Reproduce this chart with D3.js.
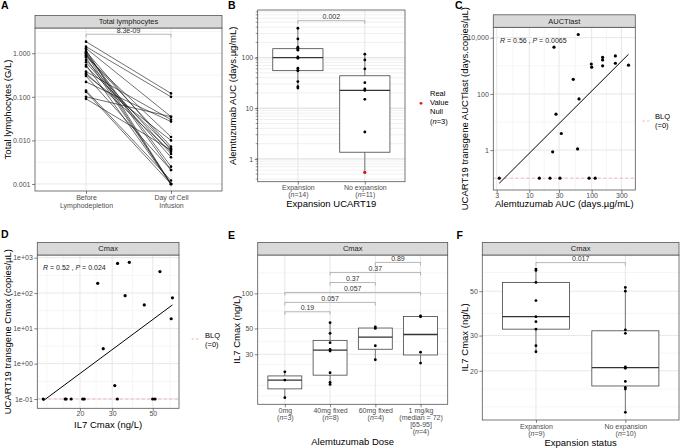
<!DOCTYPE html>
<html><head><meta charset="utf-8">
<script src="https://cdn.jsdelivr.net/npm/d3@7"></script>
<style>body{margin:0;background:#fff}</style>
</head><body>
<svg id="c" width="680" height="448" xmlns="http://www.w3.org/2000/svg"></svg>
<script>
// ---------------- DATA ----------------
// A: total lymphocytes (G/L), paired
const aCats = ["Before\nLymphodepletion", "Day of Cell\nInfusion"];
const aBefore = [1.85,1.42,1.30,1.19,1.10,1.00,0.96,0.90,0.84,0.80,0.70,0.62,0.54,0.50,0.38,0.35,0.32,0.30,0.22,0.13,0.10,0.09,0.14,1.05];
const aDay    = [0.12,0.10,0.035,0.001,0.006,0.0021,0.001,0.0072,0.012,0.001,0.0049,0.0041,0.001,0.0065,0.030,0.0055,0.010,0.0021,0.027,0.001,0.035,0.006,0.0012,0.0025];
const aP = "8.3e-09";
const aTicks = [1, 0.1, 0.01, 0.001];
const aTickLabels = ["1.000","0.100","0.010","0.001"];

// B: alemtuzumab AUC by expansion
const bCats = ["Expansion\n(n=14)", "No expansion\n(n=11)"];
const bExp = [380,234,160,150,150,140,103,97,62,56,55,33.6,26.7,25];
const bNoExp = [117,90,60,32,24,22.5,15,3.4];
const bNull = [0.54,0.54,0.54];
const bP = "0.002";
const bTicks = [100,10,1];
const bTickLabels = ["100","10","1"];

// C: AUCTlast vs alemtuzumab AUC
const cAlem = [61,24.9,50.7,62.7,26.8,32.6,23.7,59.5,98.6,100,150,150,150,240,240,390,3.3,14.5,21.5,31,91,114];
const cAuct = [13000,4600,330,66,19,3.9,0.87,1.1,1160,890,2000,1620,1000,2240,1230,1050,0.1,0.1,0.1,0.1,0.1,0.1];
const cFitX = [3.3, 390];
const cFitY = [0.066, 2570];
const cBLQ = 0.1;
const cYTicks = [10000,100,1];
const cYLabels = ["10,000","100","1"];
const cXTicks = [3,10,30,100,300];

// D: UCART19 Cmax vs IL7 Cmax
const dIl7  = [32.1,37.2,25,54.7,35.3,44.9,64,63,26.8,31,12.6,16.6,16.8,17.9,20.7,21.1,32,49.9,51.4];
const dCmax = [690,740,188,405,84,46,73,18.7,2.65,0.24,0.1,0.1,0.1,0.1,0.1,0.1,0.1,0.1,0.1];
const dFitX = [12.6, 64];
const dFitY = [0.089, 46];
const dBLQ = 0.1;
const dYTicks = [1000,100,10,1,0.1];
const dYLabels = ["1e+03","1e+02","1e+01","1e+00","1e-01"];
const dXTicks = [20,30,50];

// E: IL7 Cmax by alemtuzumab dose
const eCats = ["0mg\n(n=3)","40mg fixed\n(n=8)","60mg fixed\n(n=4)","1 mg/kg\n(median = 72)\n[65-95]\n(n=4)"];
const eVals = [[21.2,18,12.7],[56,45.4,37.7,33,32,20.8,17.2,16.5],[51.6,50,35.5,26.9],[64,63,31.2,25.2]];
const ePairs = [[0,1],[0,2],[0,3],[1,2],[1,3],[2,3]];
const eP = ["0.19","0.057","0.057","0.37","0.37","0.89"];
const eBrY = [69.5,83.7,102,124,151.5,184.5];
const eTicks = [100,50,30];

// F: IL7 Cmax by expansion status
const fCats = ["Expansion\n(n=9)","No expansion\n(n=10)"];
const fVals = [[64.5,63.5,55.3,44.9,37.3,35.2,32.3,26.7,24.9],[52.2,50,32,30.8,20.9,20.6,17.7,16.5,16.2,12.4]];
const fP = "0.017";
const fBrY = 69.5;
const fTicks = [50,30,20];

// ---------------- DRAW ----------------
const FONT = '"Liberation Sans", Arial, Helvetica, sans-serif';
const TXT = "#4d4d4d";
const svg = d3.select("#c").attr("font-family", FONT);

const PA={x0:35,x1:222,y0:28,y1:191};
const PB={x0:257.7,x1:405,y0:10,y1:181.7};
const PC={x0:493.3,x1:635.3,y0:27.3,y1:190};
const PD={x0:37.3,x1:179,y0:255,y1:408.3};
const PE={x0:257.7,x1:447.7,y0:255,y1:404.3};
const PF={x0:482.3,x1:679,y0:255,y1:420};

function letter(s,x,y){ svg.append("text").attr("x",x).attr("y",y).attr("font-size",10.5).attr("font-weight","bold").attr("fill","#000").text(s); }
function bg(p){ svg.append("rect").attr("x",p.x0).attr("y",p.y0).attr("width",p.x1-p.x0).attr("height",p.y1-p.y0).attr("fill","#fff"); }
function border(p){ svg.append("rect").attr("x",p.x0).attr("y",p.y0).attr("width",p.x1-p.x0).attr("height",p.y1-p.y0).attr("fill","none").attr("stroke","#555").attr("stroke-width",0.8); }
function strip(p,label){
  const h=12.5;
  svg.append("rect").attr("x",p.x0).attr("y",p.y0-h).attr("width",p.x1-p.x0).attr("height",h).attr("fill","#d9d9d9").attr("stroke","#555").attr("stroke-width",0.8);
  svg.append("text").attr("x",(p.x0+p.x1)/2).attr("y",p.y0-h/2).attr("dy","0.35em").attr("text-anchor","middle").attr("font-size",7.5).attr("fill","#1a1a1a").text(label);
}
function inY(p,y){ return v=>{const q=y(v); return q>=p.y0-0.01 && q<=p.y1+0.01;}; }
function inX(p,x){ return v=>{const q=x(v); return q>=p.x0-0.01 && q<=p.x1+0.01;}; }
function hgrid(p,y,vals,major,col){
  svg.append("g").selectAll("line").data(vals.filter(inY(p,y))).join("line")
    .attr("x1",p.x0).attr("x2",p.x1).attr("y1",d=>y(d)).attr("y2",d=>y(d))
    .attr("stroke",col||(major?"#e4e4e4":"#f0f0f0")).attr("stroke-width",major?0.9:0.6);
}
function vgrid(p,x,vals,major){
  svg.append("g").selectAll("line").data(vals.filter(inX(p,x))).join("line")
    .attr("y1",p.y0).attr("y2",p.y1).attr("x1",d=>x(d)).attr("x2",d=>x(d))
    .attr("stroke",major?"#e4e4e4":"#f0f0f0").attr("stroke-width",major?0.9:0.6);
}
function rich(t,s){
  const m = s.match(/^(.*\()n(=.*)$/);
  if(m){ t.append("tspan").text(m[1]); t.append("tspan").attr("font-style","italic").text("n"); t.append("tspan").text(m[2]); }
  else t.text(s);
}
function yAxis(p,y,vals,labels){
  const ax=d3.axisLeft(y).tickValues(vals).tickFormat((d,i)=>labels[i]).tickSize(3).tickPadding(1.5);
  const g=svg.append("g").attr("transform",`translate(${p.x0},0)`).call(ax).attr("font-family",FONT).attr("font-size",7);
  g.select(".domain").remove();
  g.selectAll(".tick line").attr("stroke","#333").attr("stroke-width",0.6);
  g.selectAll(".tick text").attr("fill",TXT);
}
function xAxis(p,x,vals,labels,off,lh){
  const ax=d3.axisBottom(x).tickValues(vals).tickFormat("").tickSize(3);
  const g=svg.append("g").attr("transform",`translate(0,${p.y1})`).call(ax).attr("font-family",FONT).attr("font-size",7);
  g.select(".domain").remove();
  g.selectAll(".tick line").attr("stroke","#333").attr("stroke-width",0.6);
  g.selectAll(".tick").each(function(d,i){
    const lines=String(labels[i]).split("\n");
    lines.forEach((ln,j)=>{
      const t=d3.select(this).append("text").attr("y",off+j*lh).attr("text-anchor","middle").attr("fill",TXT).attr("font-size",7);
      rich(t,ln);
    });
  });
}
function yTitle(s,x,y){ svg.append("text").attr("transform",`translate(${x},${y}) rotate(-90)`).attr("text-anchor","middle").attr("dy","0.35em").attr("font-size",9.5).attr("fill","#000").text(s); }
function xTitle(s,x,y){ svg.append("text").attr("x",x).attr("y",y).attr("text-anchor","middle").attr("font-size",9.5).attr("fill","#000").text(s); }
function bracket(x1,x2,py,label){
  svg.append("path").attr("d",`M${x1},${py+3}V${py}H${x2}V${py+3}`).attr("fill","none").attr("stroke","#9a9a9a").attr("stroke-width",0.7);
  svg.append("text").attr("x",(x1+x2)/2).attr("y",py-1.3).attr("text-anchor","middle").attr("font-size",7).attr("fill","#333").text(label);
}
function boxplot(cx,y,vals,w){
  const l=vals.map(Math.log10).sort(d3.ascending);
  const q1=d3.quantileSorted(l,0.25), md=d3.quantileSorted(l,0.5), q3=d3.quantileSorted(l,0.75);
  const iqr=q3-q1;
  const lo=d3.min(l.filter(v=>v>=q1-1.5*iqr)), hi=d3.max(l.filter(v=>v<=q3+1.5*iqr));
  const P=v=>y(Math.pow(10,v));
  const g=svg.append("g").attr("stroke","#444").attr("fill","none");
  g.append("line").attr("x1",cx).attr("x2",cx).attr("y1",P(hi)).attr("y2",P(q3)).attr("stroke-width",0.7);
  g.append("line").attr("x1",cx).attr("x2",cx).attr("y1",P(q1)).attr("y2",P(lo)).attr("stroke-width",0.7);
  g.append("rect").attr("x",cx-w/2).attr("y",P(q3)).attr("width",w).attr("height",P(q1)-P(q3)).attr("fill","#fff").attr("stroke-width",0.8);
  g.append("line").attr("x1",cx-w/2).attr("x2",cx+w/2).attr("y1",P(md)).attr("y2",P(md)).attr("stroke","#333").attr("stroke-width",1.3);
}
function dots(pts,r,color){
  svg.append("g").selectAll("circle").data(pts).join("circle").attr("cx",d=>d[0]).attr("cy",d=>d[1]).attr("r",r).attr("fill",color||"#000");
}
function minors(majors){ const out=[]; for(let i=0;i<majors.length-1;i++) out.push(Math.sqrt(majors[i]*majors[i+1])); return out; }
function rpText(x,y,rv,pv){
  const t=svg.append("text").attr("x",x).attr("y",y).attr("dy","0.35em").attr("font-size",7).attr("fill","#1a1a1a");
  t.append("tspan").attr("font-style","italic").text("R");
  t.append("tspan").text(" = "+rv+" , ");
  t.append("tspan").attr("font-style","italic").text("P");
  t.append("tspan").text(" = "+pv);
}
const decades=(a,b)=>d3.range(a,b+1).map(k=>Math.pow(10,k));

// ---------- Panel A ----------
{
  const p=PA;
  const y=d3.scaleLog().domain([Math.pow(10,-3.161),Math.pow(10,0.58)]).range([p.y1,p.y0]);
  const x=d3.scalePoint().domain(aCats).range([p.x0,p.x1]).padding(0.6);
  bg(p);
  hgrid(p,y,minors(decades(-4,1)),false);
  hgrid(p,y,aTicks,true);
  vgrid(p,x,aCats,true);
  svg.append("g").selectAll("line").data(aBefore.map((b,i)=>[b,aDay[i]])).join("line")
    .attr("x1",x(aCats[0])).attr("x2",x(aCats[1])).attr("y1",d=>y(d[0])).attr("y2",d=>y(d[1]))
    .attr("stroke","#111").attr("stroke-width",0.6);
  dots(aBefore.map(v=>[x(aCats[0]),y(v)]),1.3);
  dots(aDay.map(v=>[x(aCats[1]),y(v)]),1.3);
  border(p); strip(p,"Total lymphocytes");
  yAxis(p,y,aTicks,aTickLabels);
  xAxis(p,x,aCats,aCats,9,8.3);
  bracket(x(aCats[0]),x(aCats[1]),y(2.73),aP);
  yTitle("Total lymphocytes (G/L)",7.5,(p.y0+p.y1)/2);
  letter("A",1,9);
}

// ---------- Panel B ----------
{
  const p=PB;
  const y=d3.scaleLog().domain([Math.pow(10,-0.45),Math.pow(10,2.94)]).range([p.y1,p.y0]);
  const x=d3.scalePoint().domain(bCats).range([p.x0,p.x1]).padding(0.6);
  bg(p);
  const fine=[]; [-1,0,1,2].forEach(k=>{for(let m=1;m<10;m++) fine.push(m*Math.pow(10,k));});
  hgrid(p,y,fine,false,"#e6e6e6");
  hgrid(p,y,bTicks,true,"#dcdcdc");
  vgrid(p,x,bCats,true);
  const w=0.75*x.step();
  boxplot(x(bCats[0]),y,bExp,w);
  boxplot(x(bCats[1]),y,bNoExp.concat(bNull),w);
  dots(bExp.map(v=>[x(bCats[0]),y(v)]),1.4);
  dots(bNoExp.map(v=>[x(bCats[1]),y(v)]),1.4);
  dots(bNull.map(v=>[x(bCats[1]),y(v)]),1.4,"#e41a1c");
  border(p);
  // minor log ticks
  const mt=svg.append("g");
  fine.filter(inY(p,y)).forEach(v=>{ mt.append("line").attr("x1",p.x0-2).attr("x2",p.x0).attr("y1",y(v)).attr("y2",y(v)).attr("stroke","#333").attr("stroke-width",0.5); });
  yAxis(p,y,bTicks,bTickLabels);
  xAxis(p,x,bCats,bCats,8.5,6.8);
  bracket(x(bCats[0]),x(bCats[1]),y(536),bP);
  yTitle("Alemtuzumab AUC (days.µg/mL)",233,(p.y0+p.y1)/2);
  xTitle("Expansion UCART19",(p.x0+p.x1)/2,207);
  // legend
  svg.append("circle").attr("cx",421).attr("cy",103.3).attr("r",1.4).attr("fill","#e41a1c");
  ["Real","Value","Null","(n=3)"].forEach((s,i)=>{
    const t=svg.append("text").attr("x",430).attr("y",93+i*9.4).attr("dy","0.35em").attr("font-size",7.5).attr("fill","#000");
    rich(t,s);
  });
  letter("B",228,9);
}

// ---------- Panel C ----------
{
  const p=PC;
  const y=d3.scaleLog().domain([Math.pow(10,-1.42),Math.pow(10,4.37)]).range([p.y1,p.y0]);
  const x=d3.scaleLog().domain([Math.pow(10,0.423),Math.pow(10,2.70)]).range([p.x0,p.x1]);
  bg(p);
  hgrid(p,y,[0.1,10,1000,100000],false);
  hgrid(p,y,cYTicks,true);
  vgrid(p,x,minors([1,3,10,30,100,300,1000]),false);
  vgrid(p,x,cXTicks,true);
  svg.append("line").attr("x1",p.x0).attr("x2",p.x1).attr("y1",y(cBLQ)).attr("y2",y(cBLQ)).attr("stroke","#f4a3a3").attr("stroke-width",0.8).attr("stroke-dasharray","3,2.5");
  dots(cAlem.map((v,i)=>[x(v),y(cAuct[i])]),1.6);
  svg.append("line").attr("x1",x(cFitX[0])).attr("x2",x(cFitX[1])).attr("y1",y(cFitY[0])).attr("y2",y(cFitY[1])).attr("stroke","#000").attr("stroke-width",1);
  border(p); strip(p,"AUCTlast");
  yAxis(p,y,cYTicks,cYLabels);
  xAxis(p,x,cXTicks,cXTicks.map(String),8,7);
  rpText(500,40.7,"0.56","0.0065");
  yTitle("UCART19 transgene AUCTlast (days.copies/µL)",465,(p.y0+p.y1)/2);
  xTitle("Alemtuzumab AUC (days.µg/mL)",(p.x0+p.x1)/2,207);
  svg.append("line").attr("x1",642.5).attr("x2",650).attr("y1",121).attr("y2",121).attr("stroke","#f4a3a3").attr("stroke-width",0.8).attr("stroke-dasharray","2.5,2");
  svg.append("text").attr("x",655).attr("y",116.5).attr("dy","0.35em").attr("font-size",7.5).text("BLQ");
  svg.append("text").attr("x",655).attr("y",125.5).attr("dy","0.35em").attr("font-size",7.5).text("(=0)");
  letter("C",455,9);
}

// ---------- Panel D ----------
{
  const p=PD;
  const y=d3.scaleLog().domain([Math.pow(10,-1.263),Math.pow(10,3.076)]).range([p.y1,p.y0]);
  const x=d3.scaleLog().domain([Math.pow(10,1.068),Math.pow(10,1.842)]).range([p.x0,p.x1]);
  bg(p);
  hgrid(p,y,minors(decades(-2,4)),false);
  hgrid(p,y,dYTicks,true);
  vgrid(p,x,[13.2,16.2,24.5,38.7,62],false);
  vgrid(p,x,dXTicks,true);
  svg.append("line").attr("x1",p.x0).attr("x2",p.x1).attr("y1",y(dBLQ)).attr("y2",y(dBLQ)).attr("stroke","#f4a3a3").attr("stroke-width",0.8).attr("stroke-dasharray","3,2.5");
  dots(dIl7.map((v,i)=>[x(v),y(dCmax[i])]),1.6);
  svg.append("line").attr("x1",x(dFitX[0])).attr("x2",x(dFitX[1])).attr("y1",y(dFitY[0])).attr("y2",y(dFitY[1])).attr("stroke","#000").attr("stroke-width",1);
  border(p); strip(p,"Cmax");
  yAxis(p,y,dYTicks,dYLabels);
  xAxis(p,x,dXTicks,dXTicks.map(String),8,7);
  rpText(43,267.3,"0.52","0.024");
  yTitle("UCART19 transgene Cmax (copies/µL)",7.5,(p.y0+p.y1)/2);
  xTitle("IL7 Cmax (ng/L)",(p.x0+p.x1)/2,428);
  svg.append("line").attr("x1",191.5).attr("x2",199).attr("y1",339).attr("y2",339).attr("stroke","#f4a3a3").attr("stroke-width",0.8).attr("stroke-dasharray","2.5,2");
  svg.append("text").attr("x",205).attr("y",335).attr("dy","0.35em").attr("font-size",7.5).text("BLQ");
  svg.append("text").attr("x",205).attr("y",344).attr("dy","0.35em").attr("font-size",7.5).text("(=0)");
  letter("D",1,238);
}

// ---------- Panel E ----------
{
  const p=PE;
  const y=d3.scaleLog().domain([Math.pow(10,1.047),Math.pow(10,2.33)]).range([p.y1,p.y0]);
  const x=d3.scalePoint().domain(eCats).range([p.x0,p.x1]).padding(0.6);
  bg(p);
  hgrid(p,y,[13.2,16.2,24.5,38.7,70.7,150],false);
  hgrid(p,y,eTicks,true);
  vgrid(p,x,eCats,true);
  const w=0.75*x.step();
  eVals.forEach((vals,i)=>boxplot(x(eCats[i]),y,vals,w));
  eVals.forEach((vals,i)=>dots(vals.map(v=>[x(eCats[i]),y(v)]),1.4));
  border(p); strip(p,"Cmax");
  yAxis(p,y,eTicks,eTicks.map(String));
  xAxis(p,x,eCats,eCats,9,7);
  ePairs.forEach((pr,i)=>bracket(x(eCats[pr[0]]),x(eCats[pr[1]]),y(eBrY[i]),eP[i]));
  yTitle("IL7 Cmax (ng/L)",236.7,(p.y0+p.y1)/2);
  xTitle("Alemtuzumab Dose",(p.x0+p.x1)/2,445);
  letter("E",228,239);
}

// ---------- Panel F ----------
{
  const p=PF;
  const y=d3.scaleLog().domain([Math.pow(10,1.055),Math.pow(10,1.88)]).range([p.y1,p.y0]);
  const x=d3.scalePoint().domain(fCats).range([p.x0,p.x1]).padding(0.6);
  bg(p);
  hgrid(p,y,[13.2,16.2,24.5,38.7,62],false);
  hgrid(p,y,fTicks,true);
  vgrid(p,x,fCats,true);
  const w=0.75*x.step();
  fVals.forEach((vals,i)=>boxplot(x(fCats[i]),y,vals,w));
  fVals.forEach((vals,i)=>dots(vals.map(v=>[x(fCats[i]),y(v)]),1.4));
  border(p); strip(p,"Cmax");
  yAxis(p,y,fTicks,fTicks.map(String));
  xAxis(p,x,fCats,fCats,9,6.8);
  bracket(x(fCats[0]),x(fCats[1]),y(fBrY),fP);
  yTitle("IL7 Cmax (ng/L)",465,(p.y0+p.y1)/2);
  xTitle("Expansion status",(p.x0+p.x1)/2,446);
  letter("F",456.5,239);
}
</script>
</body></html>
